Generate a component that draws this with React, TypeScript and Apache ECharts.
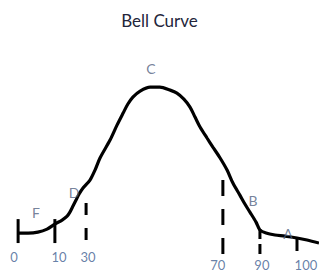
import React, { useEffect, useRef } from "react";
import * as echarts from "echarts";

// Hand-drawn bell curve (x: score-position units, y: height units)
const curveX = [0, 3.6, 7.1, 10.4, 13.2, 15.8, 17.6, 18.6, 19.7, 20.8, 21.9, 23.3, 25.8, 27.6, 29.4, 33.0, 35.5, 37.7, 39.4, 41.2, 43.8, 47.4, 50.9, 54.5, 57.0, 59.5, 61.7, 63.5, 65.3, 67.8, 69.9, 72.5, 75.0, 77.1, 79.6, 81.4, 83.2, 85.4, 86.8, 89.0, 92.2, 95.8, 100.1, 103.7, 108];
const curveY = [7.8, 7.8, 8.4, 10.3, 13.5, 16.0, 18.5, 21.0, 24.8, 28.6, 32.4, 36.2, 41.2, 47.5, 55.1, 66.4, 75.8, 83.4, 89.1, 93.5, 97.3, 99.8, 99.8, 97.9, 96.0, 92.2, 87.2, 80.9, 74.6, 67.7, 62.0, 55.1, 47.5, 39.3, 31.7, 26.1, 21.0, 14.7, 9.7, 7.8, 6.6, 5.9, 4.7, 3.4, 1.5];

// Score marks
const tickNames = ["0", "10", "30", "70", "90", "100"];
const tickX = [0, 13.2, 24.4, 73.5, 86.8, 100.1];
const tickTop = [16.6, 16.6, 26.7, 41.2, 10.3, 4.7];
const tickBottom = [1.5, 1.5, 2.1, -6.7, -6.1, -3.5];
const tickLabelX = [-1.5, 14.7, 25.1, 71.7, 87.5, 103.3];
const tickLabelY = [-7.3, -7.3, -7.3, -12.6, -12.6, -12.6];

// Grade letters
const letterNames = ["F", "D", "C", "B", "A"];
const letterX = [6.4, 20.1, 47.7, 84.3, 96.9];
const letterY = [21.0, 33.6, 111.2, 28.6, 7.8];

const dashStyles: Record<string, number[] | "solid"> = {
  "0": "solid",
  "10": "solid",
  "30": [12, 13],
  "70": [16, 13],
  "90": [10, 5],
  "100": "solid",
};

export default function App() {
  const ref = useRef<HTMLDivElement>(null);
  useEffect(() => {
    if (!ref.current) return;
    const chart = echarts.init(ref.current, undefined, { renderer: "svg" });
    const tickSeries = tickNames.map((name, i) => ({
      type: "line",
      name: "tick " + name,
      data: [
        [tickX[i], tickTop[i]],
        [tickX[i], tickBottom[i]],
      ],
      showSymbol: false,
      symbol: "none",
      clip: false,
      lineStyle: {
        color: "#000",
        width: 3,
        type: dashStyles[name] as any,
        cap: "butt",
      },
      z: 2,
    }));
    chart.setOption({
      animation: false,
      title: {
        text: "Bell Curve",
        left: "center",
        top: 7,
        textStyle: {
          fontFamily: "Lato",
          fontSize: 17,
          fontWeight: "normal",
          color: "#23253a",
        },
      },
      grid: { left: 0, right: 0, top: 55, bottom: 0 },
      xAxis: { type: "value", min: -6.5, max: 108, show: false },
      yAxis: { type: "value", min: -18, max: 120, show: false },
      series: [
        {
          type: "line",
          name: "curve",
          data: curveX.map((x, i) => [x, curveY[i]]),
          smooth: 0.3,
          showSymbol: false,
          symbol: "none",
          clip: false,
          lineStyle: { color: "#000", width: 3.2 },
          z: 3,
        },
        ...tickSeries,
        {
          type: "scatter",
          name: "scores",
          data: tickNames.map((n, i) => ({ name: n, value: [tickLabelX[i], tickLabelY[i]] })),
          symbolSize: 1,
          itemStyle: { color: "rgba(0,0,0,0)" },
          label: {
            show: true,
            position: "inside",
            formatter: (p: any) => p.name,
            fontFamily: "Lato",
            fontSize: 13,
            color: "#3f5f92",
          },
          z: 4,
        },
        {
          type: "scatter",
          name: "grades",
          data: letterNames.map((n, i) => ({ name: n, value: [letterX[i], letterY[i]] })),
          symbolSize: 1,
          itemStyle: { color: "rgba(0,0,0,0)" },
          label: {
            show: true,
            position: "inside",
            formatter: (p: any) => p.name,
            fontFamily: "Lato",
            fontSize: 14,
            color: "#52627f",
          },
          z: 4,
        },
      ],
    });
    return () => chart.dispose();
  }, []);
  return (
    <div
      ref={ref}
      style={{ position: "fixed", left: 0, top: 0, width: 319, height: 274, background: "#fff" }}
    />
  );
}
